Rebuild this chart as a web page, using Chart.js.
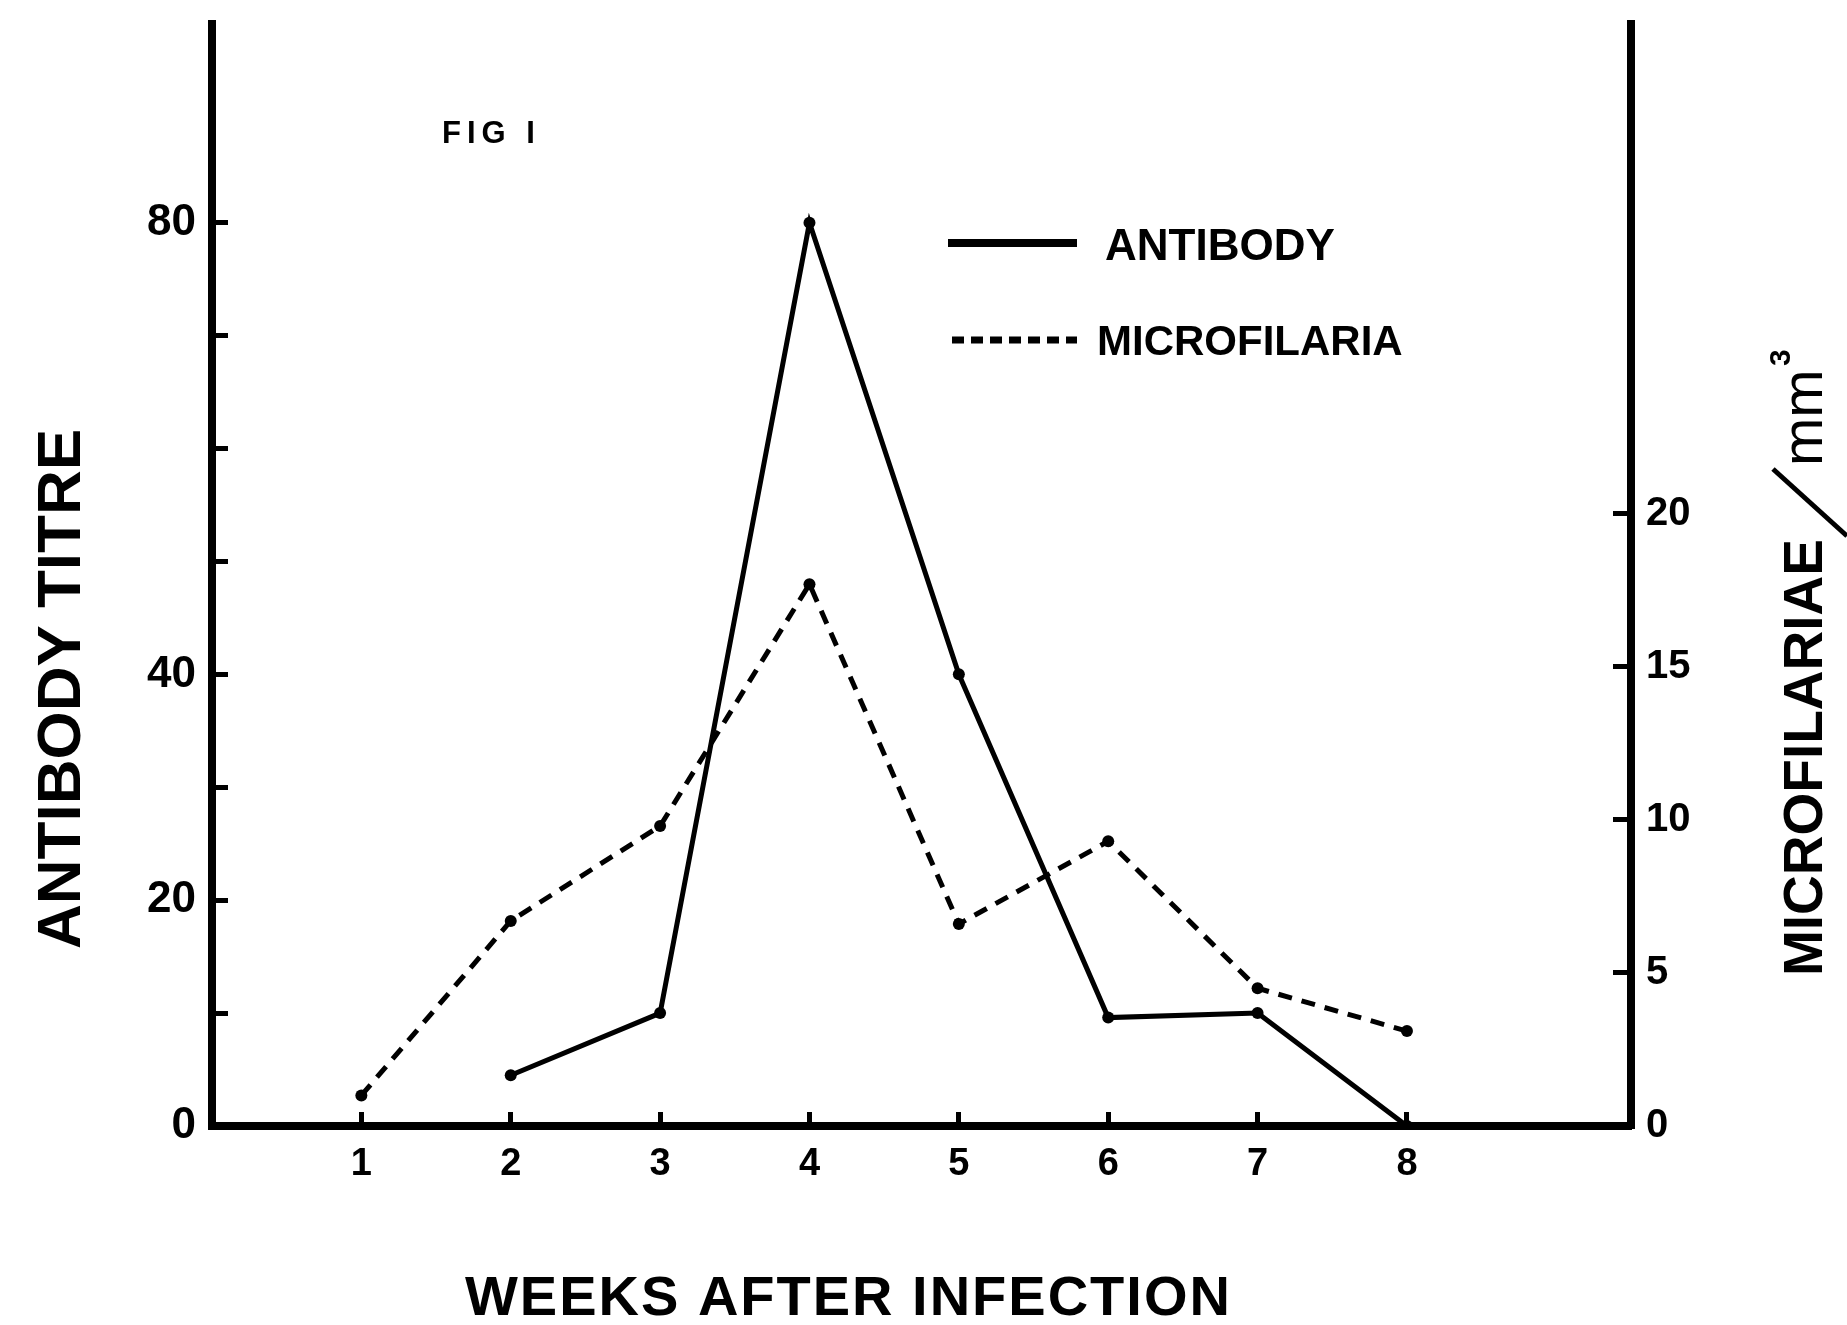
<!DOCTYPE html>
<html>
<head>
<meta charset="utf-8">
<title>Fig 1 - antibody titre and microfilariae</title>
<script src="https://cdn.jsdelivr.net/npm/chart.js@4.4.1/dist/chart.umd.min.js"></script>
<style>
    html, body { margin: 0; padding: 0; background: #fff; }
</style>
</head>
<body>
<canvas id="fig1" width="1847" height="1325"></canvas>
<script>
// weeks after infection
const weeks = [1, 2, 3, 4, 5, 6, 7, 8];
// antibody titre (left axis) - no reading at week 1
const antibodyTitre = [null, 4.5, 10, 80, 40, 9.6, 10, 0];
// microfilariae / mm3 (right axis)
const microfilariae = [1.0, 6.7, 9.8, 17.7, 6.6, 9.3, 4.5, 3.1];

// axis ticks
const titreTicks = [0, 10, 20, 30, 40, 50, 60, 70, 80];
const titreLabels = [0, 20, 40, 80];
const mfTicks = [0, 5, 10, 15, 20];

const FONT = '"Liberation Sans", Arial, sans-serif';

function toPoints(values) {
    return weeks
        .map((w, i) => ({ x: w, y: values[i] }))
        .filter(p => p.y !== null);
}

function noEdgePadding(scale) {
    scale.paddingTop = 0;
    scale.paddingBottom = 0;
    scale.paddingLeft = 0;
    scale.paddingRight = 0;
}

// legend, figure label and axis titles, drawn the way the figure has them
const figText = {
    id: 'figText',
    afterDraw(chart) {
        const ctx = chart.ctx;
        ctx.save();
        ctx.fillStyle = '#000';
        ctx.strokeStyle = '#000';
        ctx.textAlign = 'left';
        ctx.textBaseline = 'alphabetic';

        // FIG I
        ctx.font = 'bold 31px ' + FONT;
        ctx.letterSpacing = '6px';
        ctx.fillText('FIG I', 442, 143);

        // legend
        ctx.letterSpacing = '0px';
        ctx.lineWidth = 8;
        ctx.beginPath();
        ctx.moveTo(948, 243);
        ctx.lineTo(1077, 243);
        ctx.stroke();
        ctx.font = 'bold 44px ' + FONT;
        ctx.fillText('ANTIBODY', 1105, 260);

        ctx.lineWidth = 7;
        ctx.setLineDash([12, 7]);
        ctx.beginPath();
        ctx.moveTo(952, 340);
        ctx.lineTo(1077, 340);
        ctx.stroke();
        ctx.setLineDash([]);
        ctx.font = 'bold 42px ' + FONT;
        ctx.fillText('MICROFILARIA', 1097, 355);

        // x title
        ctx.font = 'bold 56px ' + FONT;
        ctx.letterSpacing = '2px';
        ctx.fillText('WEEKS AFTER INFECTION', 465, 1315);
        ctx.restore();

        // left title
        ctx.save();
        ctx.fillStyle = '#000';
        ctx.font = 'bold 62px ' + FONT;
        ctx.translate(80, 949);
        ctx.rotate(-Math.PI / 2);
        ctx.fillText('ANTIBODY TITRE', 0, 0);
        ctx.restore();

        // right title (rotated: +x goes up the page, -y goes left)
        ctx.save();
        ctx.fillStyle = '#000';
        ctx.strokeStyle = '#000';
        ctx.translate(1822, 976);
        ctx.rotate(-Math.PI / 2);
        ctx.font = 'bold 55px ' + FONT;
        ctx.fillText('MICROFILARIAE', 0, 0);
        ctx.lineWidth = 5;
        ctx.beginPath();
        ctx.moveTo(507, -49);
        ctx.lineTo(440, 25);
        ctx.stroke();
        ctx.font = '58px ' + FONT;
        ctx.fillText('mm', 510, 0);
        ctx.font = 'bold 30px ' + FONT;
        ctx.fillText('3', 610, -32);
        ctx.restore();
    }
};

const axisBorder = { display: true, width: 8, color: '#000' };

new Chart(document.getElementById('fig1'), {
    type: 'line',
    data: {
        datasets: [
            {
                label: 'ANTIBODY',
                data: toPoints(antibodyTitre),
                yAxisID: 'y',
                borderColor: '#000',
                backgroundColor: '#000',
                borderWidth: 5,
                pointRadius: 6,
                pointBorderWidth: 0,
                pointBackgroundColor: '#000',
                tension: 0
            },
            {
                label: 'MICROFILARIA',
                data: toPoints(microfilariae),
                yAxisID: 'y1',
                borderColor: '#000',
                backgroundColor: '#000',
                borderWidth: 5,
                borderDash: [14, 10],
                pointRadius: 6,
                pointBorderWidth: 0,
                pointBackgroundColor: '#000',
                tension: 0
            }
        ]
    },
    options: {
        responsive: false,
        animation: false,
        layout: { padding: { top: 24, left: 0, right: 0, bottom: 0 } },
        plugins: {
            legend: { display: false },
            tooltip: { enabled: false }
        },
        scales: {
            x: {
                type: 'linear',
                min: 0,
                max: 9.5,
                afterBuildTicks: s => { s.ticks = weeks.map(v => ({ value: v })); },
                afterFit: s => { s.height = 199; noEdgePadding(s); },
                border: axisBorder,
                grid: { drawOnChartArea: false, drawTicks: true, tickLength: -14, tickWidth: 5, tickColor: '#000' },
                ticks: { color: '#000', padding: 30, font: { family: FONT, size: 38, weight: 'bold' } }
            },
            y: {
                type: 'linear',
                position: 'left',
                min: 0,
                max: 97.6,
                afterBuildTicks: s => { s.ticks = titreTicks.map(v => ({ value: v })); },
                afterFit: s => { s.width = 212; noEdgePadding(s); },
                border: axisBorder,
                grid: { drawOnChartArea: false, drawTicks: true, tickLength: -16, tickWidth: 5, tickColor: '#000' },
                ticks: {
                    color: '#000',
                    padding: 32,
                    font: { family: FONT, size: 44, weight: 'bold' },
                    callback: v => titreLabels.includes(v) ? String(v) : ''
                }
            },
            y1: {
                type: 'linear',
                position: 'right',
                min: 0,
                max: 36,
                afterBuildTicks: s => { s.ticks = mfTicks.map(v => ({ value: v })); },
                afterFit: s => { s.width = 216; noEdgePadding(s); },
                border: axisBorder,
                grid: { drawOnChartArea: false, drawTicks: true, tickLength: -18, tickWidth: 5, tickColor: '#000' },
                ticks: { color: '#000', padding: 33, font: { family: FONT, size: 40, weight: 'bold' } }
            }
        }
    },
    plugins: [figText]
});
</script>
</body>
</html>
